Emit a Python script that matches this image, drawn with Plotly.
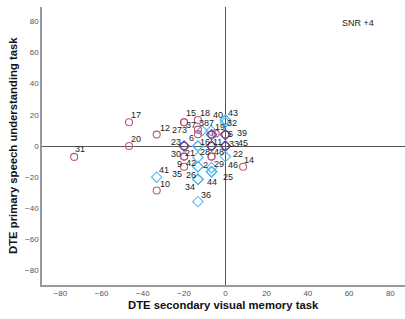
import plotly.graph_objects as go

# ---- data ----
ids = [31, 17, 20, 12, 10, 15, 37, 18, 3, 27, 19, 23, 11, 33, 5, 30, 21, 48, 9, 14, 1, 4,
       41, 38, 7, 40, 43, 32, 39, 6, 16, 45, 28, 22, 42, 2, 29, 46, 44, 25, 35, 26, 34, 36, 8, 13, 24]
dte_memory = [-73.3, -46.7, -46.7, -33.3, -33.3, -20.0, -20.0, -13.3, -13.3, -13.3, -4.7, -20.0, -6.7, 0.0, 0.0,
              -20.0, -20.0, -6.7, -20.0, 8.6, -6.7, -6.7,
              -33.3, -11.3, -6.9, 0.0, 0.0, 0.0, 0.0, -13.3, -13.3, 0.0, -13.3, 0.0, -13.3, -13.3, -6.7,
              -6.7, -6.7, -6.7, -13.3, -13.3, -13.3, -13.3, -20.0, -6.7, -6.7]
dte_speech = [-7.0, 15.2, 0.0, 7.3, -28.6, 15.2, 15.2, 16.7, 10.5, 7.6, 8.1, 0.0, 0.0, 0.0, 7.3,
              -6.8, -6.8, -6.8, -13.3, -13.3, 7.3, -6.8,
              -20.0, 9.8, 9.8, 16.7, 16.7, 15.0, 7.3, 0.0, 0.0, 0.0, -7.3, -6.8, -13.3, -13.3, -13.9,
              -16.5, -16.5, -16.5, -21.4, -21.4, -21.4, -35.7, 0.0, 0.0, 7.3]
marker_group = ["circle"] * 22 + ["diamond"] * 25

# ---- styling ----
label_offsets = {  # (dx right, dy up) in pixels
    31: (6, 8), 17: (7, 7), 20: (7, 7), 12: (8, 7), 10: (8, 7), 15: (7, 9), 37: (7, -3),
    18: (7, 7), 3: (-13, 0), 27: (-21, 4), 19: (4, 6), 23: (-8, 4), 11: (6, 4), 33: (9, 2),
    5: (5, 1), 30: (-8, 3), 21: (6, 4), 48: (7, 5), 9: (-5, 3), 14: (6, 7),
    41: (7, 7), 38: (2, 8), 7: (0, 8), 40: (-7, 5), 43: (8, 7), 32: (7, 0), 39: (17, 2),
    6: (-6, 8), 16: (7, 4), 45: (18, 3), 28: (7, 5), 22: (13, 3), 42: (-7, 4), 2: (8, 2),
    29: (7, 4), 46: (21, 7), 44: (0, -10), 25: (16, -5), 35: (-21, 5), 26: (-7, 4),
    34: (-8, -8), 36: (8, 7),
}
col_circle = "#c0567f"
col_diamond = "#55b6ee"
col_both = "#644890"

circle_pts = {(round(x, 1), round(y, 1)) for x, y, g in zip(dte_memory, dte_speech, marker_group) if g == "circle"}
diamond_pts = {(round(x, 1), round(y, 1)) for x, y, g in zip(dte_memory, dte_speech, marker_group) if g == "diamond"}
both = circle_pts & diamond_pts

fig = go.Figure()
for grp, sym, base, size in [("diamond", "diamond-open", col_diamond, 8), ("circle", "circle-open", col_circle, 7)]:
    xs = [x for x, g in zip(dte_memory, marker_group) if g == grp]
    ys = [y for y, g in zip(dte_speech, marker_group) if g == grp]
    cols = [col_both if (round(x, 1), round(y, 1)) in both else base for x, y in zip(xs, ys)]
    fig.add_trace(go.Scatter(
        x=xs, y=ys, mode="markers",
        marker=dict(symbol=sym, size=size, color=cols, line=dict(color=cols, width=1.1)),
        showlegend=False, hoverinfo="skip",
    ))

annotations = []
for i, x, y in zip(ids, dte_memory, dte_speech):
    if i in label_offsets:
        dx, dy = label_offsets[i]
        annotations.append(dict(x=x, y=y, xref="x", yref="y", text=str(i), showarrow=False,
                                xshift=dx, yshift=dy,
                                font=dict(family="Liberation Sans, Arial", size=9, color="#222222")))

annotations.append(dict(x=0.92, y=0.968, xref="paper", yref="paper", text="SNR +4", showarrow=False,
                        font=dict(family="Liberation Sans, Arial", size=9, color="#222222")))
annotations.append(dict(x=0.5, y=0, xref="paper", yref="paper", yanchor="top", yshift=-12,
                        text="<b>DTE secondary visual memory task</b>", showarrow=False,
                        font=dict(family="Liberation Sans, Arial", size=11.3, color="#111111")))
annotations.append(dict(x=0, y=0.5, xref="paper", yref="paper", xanchor="right", xshift=-21,
                        text="<b>DTE primary speech understanding task</b>", showarrow=False, textangle=-90,
                        font=dict(family="Liberation Sans, Arial", size=11.3, color="#111111")))

axis_common = dict(showgrid=False, zeroline=True, zerolinecolor="#555555", zerolinewidth=1.2,
                   showline=True, linecolor="#999999", linewidth=1.5, ticks="",
                   tickfont=dict(family="Liberation Sans, Arial", size=8, color="#555555"))

fig.update_layout(
    width=405, height=319,
    margin=dict(l=42, r=0, t=7, b=34),
    paper_bgcolor="white", plot_bgcolor="white",
    xaxis=dict(range=[-88.9, 87.1], tickvals=[-80, -60, -40, -20, 0, 20, 40, 60, 80], **axis_common),
    yaxis=dict(range=[-89.2, 89.2], tickvals=[-80, -60, -40, -20, 0, 20, 40, 60, 80], **axis_common),
    annotations=annotations,
)
fig.write_html("out.html", config={"displayModeBar": False},
               post_script="document.body.style.margin='0';document.body.style.overflow='hidden';")
